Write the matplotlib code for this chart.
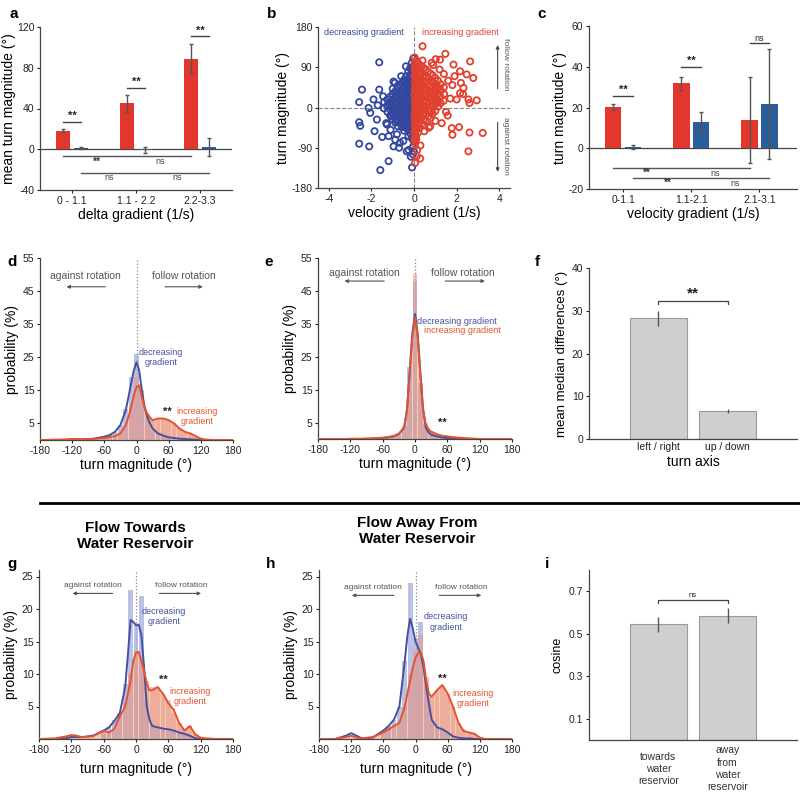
import numpy as np
import matplotlib
matplotlib.use('Agg')
import matplotlib.pyplot as plt
from matplotlib.lines import Line2D

plt.rcParams['font.family'] = ['Liberation Sans', 'DejaVu Sans']
plt.rcParams['axes.unicode_minus'] = False

RED = '#e3372d'
BLUE = '#2b5d9b'
SC_RED = '#e2402f'
SC_BLUE = '#34479e'
CURVE_BLUE = '#45509f'
CURVE_RED = '#e4532c'
BAR_BLUE = '#a3acdd'
BAR_RED = '#e89a8a'
FILL_RED = '#f4a585'
GRAY = '#555555'

# ---- panel a ----
A_GROUPS = ['0 - 1.1', '1.1 - 2.2', '2.2-3.3']
A_RED = [18, 45, 89]
A_RED_ERR = [1.5, 8, 14]
A_BLUE = [1.5, -1, 2]
A_BLUE_ERR = [1, 3, 9]

# ---- panel b ----
BLUE_PTS = [
    (-0.03, 110), (-0.03, 92), (-0.04, 75), (-0.02, 60), (-0.03, 45), (-0.04, 30), (-0.02, 15), (-0.03, 0),
    (-0.04, -15), (-0.02, -30), (-0.03, -45), (-0.04, -60), (-0.02, -75), (-0.05, -88),
    (-0.10, 100), (-0.11, 82), (-0.09, 66), (-0.10, 50), (-0.12, 36), (-0.10, 22), (-0.09, 8), (-0.11, -8),
    (-0.10, -22), (-0.12, -38), (-0.09, -52), (-0.11, -68),
    (-0.18, 88), (-0.19, 72), (-0.17, 57), (-0.18, 42), (-0.20, 28), (-0.18, 14), (-0.17, 0), (-0.19, -14),
    (-0.18, -28), (-0.20, -42), (-0.17, -58),
    (-0.27, 80), (-0.28, 63), (-0.26, 48), (-0.27, 34), (-0.29, 20), (-0.27, 6), (-0.26, -8), (-0.28, -22),
    (-0.27, -36), (-0.29, -50), (-0.26, -64),
    (-0.36, 70), (-0.37, 55), (-0.35, 40), (-0.36, 26), (-0.38, 12), (-0.36, -2), (-0.35, -16), (-0.37, -30),
    (-0.36, -45),
    (-0.46, 62), (-0.47, 47), (-0.45, 33), (-0.46, 19), (-0.48, 5), (-0.46, -9), (-0.45, -23), (-0.47, -38),
    (-0.46, -52),
    (-0.56, 55), (-0.57, 40), (-0.55, 26), (-0.56, 12), (-0.58, -2), (-0.56, -16), (-0.55, -30), (-0.57, -44),
    (-0.66, 50), (-0.67, 35), (-0.65, 21), (-0.66, 7), (-0.68, -7), (-0.66, -21), (-0.65, -35),
    (-0.77, 43), (-0.78, 29), (-0.76, 15), (-0.77, 1), (-0.79, -13), (-0.77, -27), (-0.76, -42),
    (-0.88, 36), (-0.89, 22), (-0.87, 8), (-0.88, -6), (-0.90, -20), (-0.88, -34),
    (-1.00, 30), (-1.01, 16), (-0.99, 2), (-1.00, -12), (-1.02, -26),
    (-1.12, 24), (-1.13, 10), (-1.11, -4), (-1.12, -18),
    (-1.25, 18), (-1.26, 4), (-1.24, -10), (-1.40, 12), (-1.41, -2),
    (-0.06, 83), (-0.07, 52), (-0.06, 22), (-0.07, -8), (-0.06, -38), (-0.07, -67),
    (-0.22, 64), (-0.23, 35), (-0.22, 7), (-0.23, -21), (-0.22, -49),
    (-0.41, 51), (-0.42, 22), (-0.41, -5), (-0.42, -34), (-0.61, 33), (-0.62, 5), (-0.61, -24),
    (-0.82, 24), (-0.83, -4), (-0.82, -30), (-1.06, 6), (-1.06, -20),
    (-2.44, 40), (-2.57, 12), (-2.57, -33), (-2.52, -41), (-2.57, -81), (-2.10, -87), (-1.63, 101),
    (-1.63, 40), (-1.19, -120), (-1.58, -140), (-1.49, -66), (-1.85, -53), (-2.05, -12), (-1.90, 18),
    (-2.13, -1), (-0.38, 92), (-0.49, 58), (-0.96, 58), (-0.88, -72), (-0.34, -98), (-0.01, -98),
    (-0.09, -134), (-1.19, -64), (-1.27, -38), (-1.74, -27), (-0.96, -87), (-0.65, -79),
    (-1.70, 5), (-1.45, 25), (-1.30, -35), (-1.10, -50), (-0.90, 55), (-0.80, -60), (-0.60, 70),
    (-0.50, -75), (-1.00, 42), (-0.25, -95), (-0.15, -110), (-0.05, -105), (-0.70, -90),
]
RED_PTS = [
    (0.03, 112), (0.03, 98), (0.04, 84), (0.02, 70), (0.03, 56), (0.04, 42), (0.02, 28), (0.03, 14),
    (0.04, 0), (0.02, -14), (0.03, -28), (0.04, -42), (0.02, -56), (0.03, -70), (0.05, -82),
    (0.10, 105), (0.11, 90), (0.09, 76), (0.10, 62), (0.12, 48), (0.10, 34), (0.09, 20), (0.11, 6),
    (0.10, -8), (0.12, -22), (0.09, -36), (0.11, -50), (0.10, -64),
    (0.18, 100), (0.19, 85), (0.17, 70), (0.18, 56), (0.20, 42), (0.18, 28), (0.17, 14), (0.19, 0),
    (0.18, -14), (0.20, -28), (0.17, -42), (0.19, -56),
    (0.27, 95), (0.28, 80), (0.26, 66), (0.27, 52), (0.29, 38), (0.27, 24), (0.26, 10), (0.28, -4),
    (0.27, -18), (0.29, -32), (0.26, -46),
    (0.36, 92), (0.37, 77), (0.35, 62), (0.36, 48), (0.38, 34), (0.36, 20), (0.35, 6), (0.37, -8),
    (0.36, -22), (0.38, -36),
    (0.46, 88), (0.47, 73), (0.45, 58), (0.46, 44), (0.48, 30), (0.46, 16), (0.45, 2), (0.47, -12),
    (0.46, -26), (0.48, -40),
    (0.56, 85), (0.57, 70), (0.55, 55), (0.56, 41), (0.58, 27), (0.56, 13), (0.55, -1), (0.57, -15),
    (0.56, -29),
    (0.66, 80), (0.67, 65), (0.65, 50), (0.66, 36), (0.68, 22), (0.66, 8), (0.65, -6), (0.67, -20),
    (0.77, 76), (0.78, 60), (0.76, 46), (0.77, 32), (0.79, 18), (0.77, 4), (0.76, -10), (0.78, -24),
    (0.88, 72), (0.89, 56), (0.87, 42), (0.88, 28), (0.90, 14), (0.88, 0), (0.87, -14),
    (1.00, 66), (1.01, 50), (0.99, 36), (1.00, 22), (1.02, 8), (1.00, -8),
    (1.12, 60), (1.13, 44), (1.11, 30), (1.12, 16), (1.13, 2),
    (1.25, 52), (1.26, 38), (1.24, 24), (1.25, 10), (1.40, 45), (1.41, 30), (1.39, 15),
    (0.06, 91), (0.07, 63), (0.06, 35), (0.07, 7), (0.06, -21), (0.07, -49), (0.06, -75),
    (0.23, 78), (0.22, 49), (0.23, 21), (0.22, -7), (0.23, -35),
    (0.41, 69), (0.42, 41), (0.41, 13), (0.42, -15), (0.61, 58), (0.62, 30), (0.61, 2),
    (0.82, 50), (0.83, 22), (0.82, -6), (1.06, 40), (1.06, 12),
    (0.40, 137), (1.47, 120), (0.40, 105), (1.02, 108), (1.22, 107), (0.83, 100), (2.63, 103),
    (1.85, 96), (2.16, 81), (2.47, 74), (2.78, 66), (2.32, 44), (2.16, 32), (2.00, 18), (2.55, 18),
    (2.60, 10), (2.94, 16), (3.22, -57), (2.60, -56), (2.11, -44), (1.77, -46), (1.58, -18), (1.30, -35),
    (1.80, -61), (2.55, -98), (0.05, -124), (0.13, -109), (0.29, -114), (0.10, -70), (0.48, -53),
    (0.76, -42), (1.60, 60), (1.20, 85), (1.40, 75), (1.80, 50), (1.00, -30), (0.70, -45), (0.30, -85),
    (0.15, -95), (1.70, 20), (2.20, 55), (1.50, -10), (0.90, 95), (1.90, 70), (2.30, 30),
]

# ---- panel c ----
C_GROUPS = ['0-1.1', '1.1-2.1', '2.1-3.1']
C_RED = [20.3, 31.9, 13.9]
C_RED_ERR = [1.5, 3.3, 21]
C_BLUE = [0.6, 12.7, 21.7]
C_BLUE_ERR = [0.8, 5, 27]

# ---- histogram panels d, e, g, h ----
HIST_BINS = [-60, -50, -40, -30, -20, -10, 0, 10, 20, 30, 40, 50, 60, 70, 80, 90, 100, 110, 120]
D_BLUE_BARS = [1, 1.5, 2.5, 4.5, 9.5, 19, 26, 15, 6.5, 3, 2, 1.2, 0.8, 0.5, 0.3, 0.2, 0.1, 0, 0]
D_RED_BARS = [0.6, 1, 1.2, 2, 4, 10, 19, 14, 8, 6, 6.5, 6.5, 6, 5, 3.5, 2.5, 2, 1.2, 0.4]
E_BLUE_BARS = [0.3, 0.5, 0.8, 1.5, 4, 22, 48, 17, 4, 1.5, 0.8, 0.5, 0.3, 0.2, 0.1, 0, 0, 0, 0]
E_RED_BARS = [0.3, 0.4, 0.6, 1, 3, 16, 50, 17, 5, 2.5, 1.5, 1, 0.8, 0.5, 0.3, 0.2, 0.1, 0, 0]
G_BLUE_BARS = [1.3, 1.8, 3, 4, 8.5, 23, 17.5, 22, 6, 2, 1.8, 1.5, 1.5, 1.2, 1, 0.8, 0.5, 0.1, 0]
G_RED_BARS = [1.3, 1, 1.6, 3.5, 5.5, 10, 13.5, 12.5, 9, 8, 8, 7, 6, 4, 2.5, 1.5, 2, 0.7, 0.2]
H_BLUE_BARS = [1.3, 2, 3, 5, 12, 24, 15.5, 18, 8, 3, 1.8, 1.5, 1, 0.4, 0.2, 0.1, 0.1, 0, 0]
H_RED_BARS = [1, 1.5, 2, 2.5, 5, 10, 13.5, 16, 9.5, 6.5, 7.5, 8, 7, 5, 2.5, 1.5, 1, 0.8, 0.2]

CURVE_X = [-180, -150, -130, -120, -110, -100, -80, -60, -50, -40, -30, -20, -15, -10, -5, 0, 5,
           10, 15, 20, 25, 30, 40, 50, 60, 70, 80, 90, 100, 110, 120, 130, 150, 180]
D_BLUE_CURVE = [0, 0, 0.05, 0.1, 0.15, 0.2, 0.4, 1.0, 1.5, 2.5, 4.5, 9, 13, 17, 21, 23.5, 21,
                15, 10, 7, 5, 3.5, 2, 1.3, 0.8, 0.6, 0.4, 0.3, 0.2, 0.1, 0, 0, 0, 0]
D_RED_CURVE = [0, 0.1, 0.2, 0.3, 0.25, 0.2, 0.3, 0.6, 0.9, 1.2, 2, 4.5, 7, 10, 13.5, 16, 16.5,
               13, 10, 8, 6.8, 6, 6.5, 6.5, 6, 5, 3.5, 2.5, 2, 1.2, 0.4, 0.1, 0, 0]
E_BLUE_CURVE = [0, 0, 0, 0, 0, 0, 0.1, 0.3, 0.5, 0.8, 1.5, 3.5, 9, 20, 32, 38, 32,
                20, 9, 3.5, 2, 1.3, 0.8, 0.5, 0.3, 0.2, 0.1, 0, 0, 0, 0, 0, 0, 0]
E_RED_CURVE = [0, 0, 0, 0.1, 0.1, 0.1, 0.2, 0.4, 0.6, 0.9, 1.6, 3.5, 8.5, 19, 31, 37, 31,
               19, 9, 4.5, 3, 2.2, 1.5, 1, 0.8, 0.6, 0.4, 0.3, 0.2, 0.1, 0, 0, 0, 0]
G_BLUE_CURVE = [0, 0, 0.1, 0.3, 0.3, 0.3, 0.5, 1.3, 1.8, 2.8, 4, 8, 13, 18.3, 18, 17.5, 17.6,
                16, 11, 5, 3, 2, 1.8, 1.6, 1.5, 1.3, 1, 0.8, 0.5, 0.1, 0, 0, 0, 0]
G_RED_CURVE = [0, 0.1, 0.4, 0.6, 0.5, 0.3, 0.4, 1.3, 1.0, 1.6, 3.5, 5, 7, 9, 12, 13.3, 13.4,
               12, 10.5, 8.5, 7.5, 7.5, 8, 7, 5.5, 4.5, 2.5, 1.3, 2, 0.7, 0.2, 0.1, 0, 0]
H_BLUE_CURVE = [0, 0, 0.5, 0.9, 0.5, 0.1, 0.2, 1.3, 2, 3, 5, 12, 16, 18.5, 17, 15, 14,
                13, 11, 8, 5.5, 3, 1.8, 1.5, 1, 0.4, 0.2, 0.1, 0.1, 0, 0, 0, 0, 0]
H_RED_CURVE = [0, 0, 0.3, 0.5, 0.2, 0.1, 0.3, 1, 1.5, 2, 2.5, 5, 7, 9, 11, 12.5, 13.2,
               13.3, 12, 9, 7, 6.5, 7.5, 8.3, 7, 5, 2.5, 1.2, 1, 0.8, 0.2, 0, 0, 0]

# ---- panel f ----
F_LABELS = ['left / right', 'up / down']
F_VALS = [28.2, 6.5]
F_ERR = [1.7, 0.5]

# ---- panel i ----
I_LABELS = ['towards\nwater\nreservior', 'away\nfrom\nwater\nreservoir']
I_VALS = [0.545, 0.585]
I_ERR = [0.035, 0.035]


def px_axes(fig, left, top, right, bottom):
    return fig.add_axes([left / 800, 1 - bottom / 800, (right - left) / 800, (bottom - top) / 800])


def style(ax):
    for s in ['top', 'right']:
        ax.spines[s].set_visible(False)
    for s in ['left', 'bottom']:
        ax.spines[s].set_color('#444444')
        ax.spines[s].set_linewidth(0.9)
    ax.tick_params(direction='out', length=2, width=0.8, labelsize=7.5, colors='#222222', pad=2)


def bracket(ax, x0, x1, y, text, fs=8, hook=0.0, dy=0.5, color='#444444'):
    if hook:
        ax.plot([x0, x0, x1, x1], [y - hook, y, y, y - hook], color=color, lw=0.9)
    else:
        ax.plot([x0, x1], [y, y], color=color, lw=1.0)
    ax.text((x0 + x1) / 2, y + dy, text, ha='center', va='bottom', fontsize=fs,
            fontweight='bold' if '*' in text else 'normal', color='#222222')


def grouped_bars(ax, red, red_err, blue, blue_err, off, width):
    xg = np.arange(1, len(red) + 1)
    ax.bar(xg - off, red, width, color=RED, zorder=2)
    ax.bar(xg + off, blue, width, color=BLUE, zorder=2)
    ax.errorbar(xg - off, red, yerr=red_err, fmt='none', ecolor=GRAY, elinewidth=1, capsize=1.5, zorder=3)
    ax.errorbar(xg + off, blue, yerr=blue_err, fmt='none', ecolor=GRAY, elinewidth=1, capsize=1.5, zorder=3)
    ax.axhline(0, color='#444444', lw=0.9, zorder=1)
    return xg


def hist_panel(ax, blue_bars, red_bars, blue_curve, red_curve, ymax, yticks):
    ax.fill_between(CURVE_X, red_curve, color=FILL_RED, alpha=0.6, lw=0, zorder=1)
    ax.bar(HIST_BINS, blue_bars, 9, color=BAR_BLUE, alpha=0.75, lw=0, zorder=2)
    ax.bar(HIST_BINS, red_bars, 9, color=BAR_RED, alpha=0.6, lw=0, zorder=3)
    ax.plot(CURVE_X, blue_curve, color=CURVE_BLUE, lw=1.4, zorder=4)
    ax.plot(CURVE_X, red_curve, color=CURVE_RED, lw=1.4, zorder=4)
    ax.axvline(0, color='#888888', ls=':', lw=0.9, zorder=0)
    ax.set_xlim(-180, 180)
    ax.set_ylim(0, ymax)
    ax.set_xticks([-180, -120, -60, 0, 60, 120, 180])
    ax.set_yticks(yticks)
    ax.set_xlabel('turn magnitude (°)', fontsize=10, labelpad=2)
    ax.set_ylabel('probability (%)', fontsize=10, labelpad=3)
    style(ax)


def rotation_arrows(ax, ty, ay, fs, xa=(-95, 88), arr_l=(-45, -130), arr_r=(45, 130)):
    ax.text(xa[0], ty, 'against rotation', ha='center', va='center', fontsize=fs, color='#555555')
    ax.text(xa[1], ty, 'follow rotation', ha='center', va='center', fontsize=fs, color='#555555')
    kw = dict(arrowstyle='-|>', color='#555555', lw=0.8, mutation_scale=5)
    ax.annotate('', xy=(arr_l[1], ay), xytext=(arr_l[0], ay), arrowprops=kw)
    ax.annotate('', xy=(arr_r[1], ay), xytext=(arr_r[0], ay), arrowprops=kw)


fig = plt.figure(figsize=(8, 8), dpi=100)

# ---------------- a ----------------
ax = px_axes(fig, 40, 27, 232, 190)
xg = grouped_bars(ax, A_RED, A_RED_ERR, A_BLUE, A_BLUE_ERR, 0.14, 0.23)
ax.set_xlim(0.5, 3.5)
ax.set_ylim(-40, 120)
ax.set_yticks([-40, 0, 40, 80, 120])
ax.set_xticks(xg)
ax.set_xticklabels(A_GROUPS, fontsize=8)
for g, yb in zip(xg, [27, 60, 111]):
    bracket(ax, g - 0.14, g + 0.14, yb, '**', dy=0.8)
ax.plot([0.86, 2.86], [-6.5, -6.5], color='#555555', lw=1)
ax.plot([1.14, 3.14], [-23, -23], color='#555555', lw=1)
ax.text(1.37, -12, '**', ha='center', va='center', fontsize=7.5, fontweight='bold', color='#333333')
ax.text(2.37, -12, 'ns', ha='center', va='center', fontsize=6.5, color='#444444')
ax.text(1.58, -27.5, 'ns', ha='center', va='center', fontsize=6.5, color='#444444')
ax.text(2.65, -27.5, 'ns', ha='center', va='center', fontsize=6.5, color='#444444')
style(ax)
ax.set_xlabel('delta gradient (1/s)', fontsize=10, labelpad=2)
ax.set_ylabel('mean turn magnitude (°)', fontsize=10, labelpad=1)

# ---------------- b ----------------
ax = px_axes(fig, 318, 27, 510, 188)
bx, by = zip(*BLUE_PTS)
rx, ry = zip(*RED_PTS)
ax.scatter(bx, by, s=20, facecolors='none', edgecolors=SC_BLUE, linewidths=1.3, zorder=3)
ax.scatter(rx, ry, s=20, facecolors='none', edgecolors=SC_RED, linewidths=1.3, zorder=3)
ax.axhline(0, color='#888888', ls='--', lw=0.8, zorder=1)
ax.axvline(0, color='#888888', ls='--', lw=0.8, zorder=1)
ax.set_xlim(-4.5, 4.5)
ax.set_ylim(-180, 180)
ax.set_xticks([-4, -2, 0, 2, 4])
ax.set_yticks([-180, -90, 0, 90, 180])
ax.text(-2.36, 168, 'decreasing gradient', ha='center', va='center', fontsize=6.5, color=SC_BLUE)
ax.text(2.16, 168, 'increasing gradient', ha='center', va='center', fontsize=6.5, color=SC_RED)
kw = dict(arrowstyle='-|>', color='#444444', lw=0.8, mutation_scale=5)
ax.annotate('', xy=(3.92, 146), xytext=(3.92, 36), arrowprops=kw)
ax.annotate('', xy=(3.92, -150), xytext=(3.92, -27), arrowprops=kw)
ax.text(4.3, 96, 'follow rotation', rotation=-90, ha='center', va='center', fontsize=6, color='#555555')
ax.text(4.3, -87, 'against rotation', rotation=-90, ha='center', va='center', fontsize=6, color='#555555')
style(ax)
ax.set_xlabel('velocity gradient (1/s)', fontsize=10, labelpad=2)
ax.set_ylabel('turn magnitude (°)', fontsize=10, labelpad=1)

# ---------------- c ----------------
ax = px_axes(fig, 589, 26, 797, 189)
xg = grouped_bars(ax, C_RED, C_RED_ERR, C_BLUE, C_BLUE_ERR, 0.145, 0.24)
ax.set_xlim(0.5, 3.55)
ax.set_ylim(-20, 60)
ax.set_yticks([-20, 0, 20, 40, 60])
ax.set_xticks(xg)
ax.set_xticklabels(C_GROUPS, fontsize=8)
bracket(ax, 0.855, 1.145, 25.8, '**', dy=0.4)
bracket(ax, 1.855, 2.145, 40, '**', dy=0.4)
bracket(ax, 2.855, 3.145, 51.5, 'ns', fs=6.5, dy=0.3)
ax.plot([0.855, 2.855], [-9.8, -9.8], color='#555555', lw=1)
ax.plot([1.145, 3.145], [-14.7, -14.7], color='#555555', lw=1)
ax.text(1.35, -12.3, '**', ha='center', va='center', fontsize=7, fontweight='bold', color='#333333')
ax.text(2.35, -12.3, 'ns', ha='center', va='center', fontsize=6.5, color='#444444')
ax.text(1.65, -17.2, '**', ha='center', va='center', fontsize=7, fontweight='bold', color='#333333')
ax.text(2.65, -17.2, 'ns', ha='center', va='center', fontsize=6.5, color='#444444')
style(ax)
ax.set_xlabel('velocity gradient (1/s)', fontsize=10, labelpad=2)
ax.set_ylabel('turn magnitude (°)', fontsize=10, labelpad=1)

# ---------------- d ----------------
ax = px_axes(fig, 40, 258, 233, 440)
hist_panel(ax, D_BLUE_BARS, D_RED_BARS, D_BLUE_CURVE, D_RED_CURVE, 55, [5, 15, 25, 35, 45, 55])
rotation_arrows(ax, 49.5, 46.3, 7.5, xa=(-96, 88), arr_l=(-53, -136), arr_r=(48, 129))
ax.text(46, 25, 'decreasing\ngradient', ha='center', va='center', fontsize=6.5, color=CURVE_BLUE,
        linespacing=1.15)
ax.text(113, 7, 'increasing\ngradient', ha='center', va='center', fontsize=6.5, color=CURVE_RED,
        linespacing=1.15)
ax.text(58, 8.5, '**', ha='center', va='center', fontsize=8, fontweight='bold', color='#222222')

# ---------------- e ----------------
ax = px_axes(fig, 318, 258, 512, 439)
hist_panel(ax, E_BLUE_BARS, E_RED_BARS, E_BLUE_CURVE, E_RED_CURVE, 55, [5, 15, 25, 35, 45, 55])
rotation_arrows(ax, 50.5, 48, 7.5, xa=(-94, 88), arr_l=(-52, -136), arr_r=(51, 135))
ax.text(77, 35.6, 'decreasing gradient', ha='center', va='center', fontsize=6.5, color=CURVE_BLUE)
ax.text(87, 32.9, 'increasing gradient', ha='center', va='center', fontsize=6.5, color=CURVE_RED)
ax.text(51, 4.8, '**', ha='center', va='center', fontsize=8, fontweight='bold', color='#222222')

# ---------------- f ----------------
ax = px_axes(fig, 589, 268, 797, 439)
ax.bar([1, 2], F_VALS, 0.82, color='#cfcfcf', edgecolor='#9a9a9a', lw=0.8, zorder=2)
ax.errorbar([1, 2], F_VALS, yerr=F_ERR, fmt='none', ecolor=GRAY, elinewidth=1, capsize=0, zorder=3)
bracket(ax, 1, 2, 32.2, '**', fs=11, hook=0.7, dy=0.2)
ax.set_xlim(0, 3)
ax.set_ylim(0, 40)
ax.set_yticks([0, 10, 20, 30, 40])
ax.set_xticks([1, 2])
ax.set_xticklabels(F_LABELS, fontsize=7.5)
style(ax)
ax.tick_params(axis='x', length=0)
ax.set_xlabel('turn axis', fontsize=10, labelpad=2)
ax.set_ylabel('mean median differences (°)', fontsize=9.5, labelpad=3)

# ---------------- g ----------------
ax = px_axes(fig, 39, 570, 233, 739)
hist_panel(ax, G_BLUE_BARS, G_RED_BARS, G_BLUE_CURVE, G_RED_CURVE, 26, [5, 10, 15, 20, 25])
rotation_arrows(ax, 23.6, 22.4, 6, xa=(-80, 84), arr_l=(-38, -123), arr_r=(38, 126))
ax.text(52, 18.8, 'decreasing\ngradient', ha='center', va='center', fontsize=6.5, color=CURVE_BLUE,
        linespacing=1.15)
ax.text(101, 6.6, 'increasing\ngradient', ha='center', va='center', fontsize=6.5, color=CURVE_RED,
        linespacing=1.15)
ax.text(51, 9.1, '**', ha='center', va='center', fontsize=8, fontweight='bold', color='#222222')
ax.set_xlabel('turn magnitude (°)', fontsize=10, labelpad=5)

# ---------------- h ----------------
ax = px_axes(fig, 319, 570, 512, 739)
hist_panel(ax, H_BLUE_BARS, H_RED_BARS, H_BLUE_CURVE, H_RED_CURVE, 26, [5, 10, 15, 20, 25])
rotation_arrows(ax, 23.3, 22.1, 6, xa=(-79, 86), arr_l=(-35, -124), arr_r=(39, 128))
ax.text(57, 18.0, 'decreasing\ngradient', ha='center', va='center', fontsize=6.5, color=CURVE_BLUE,
        linespacing=1.15)
ax.text(108, 6.3, 'increasing\ngradient', ha='center', va='center', fontsize=6.5, color=CURVE_RED,
        linespacing=1.15)
ax.text(50, 9.2, '**', ha='center', va='center', fontsize=8, fontweight='bold', color='#222222')
ax.set_xlabel('turn magnitude (°)', fontsize=10, labelpad=5)

# ---------------- i ----------------
ax = px_axes(fig, 589, 570, 797, 740)
ax.bar([1, 2], I_VALS, 0.82, color='#cfcfcf', edgecolor='#9a9a9a', lw=0.8, zorder=2)
ax.errorbar([1, 2], I_VALS, yerr=I_ERR, fmt='none', ecolor=GRAY, elinewidth=1, capsize=0, zorder=3)
bracket(ax, 1, 2, 0.658, 'ns', fs=5.5, hook=0.012, dy=0.004)
ax.set_xlim(0, 3)
ax.set_ylim(0, 0.8)
ax.set_yticks([0.1, 0.3, 0.5, 0.7])
ax.set_xticks([])
for xi, lab in zip([1, 2], I_LABELS):
    ax.text(xi, -0.17, lab, transform=ax.get_xaxis_transform(), ha='center', va='center',
            fontsize=7.5, color='#333333', linespacing=1.3)
style(ax)
ax.set_ylabel('cosine', fontsize=9, labelpad=4)

# ---------------- figure-level decoration ----------------
for lab, x, y in [('a', 10, 14), ('b', 267, 14), ('c', 537, 14), ('d', 7, 262), ('e', 264, 262),
                  ('f', 535, 262), ('g', 7, 564), ('h', 266, 564), ('i', 545, 564)]:
    fig.text(x / 800, 1 - y / 800, lab, fontsize=11, fontweight='bold', va='center', ha='left')

fig.add_artist(Line2D([40 / 800, 1.0], [1 - 503 / 800, 1 - 503 / 800], color='black', lw=2))
fig.text(135 / 800, 1 - 536 / 800, 'Flow Towards\nWater Reservoir', ha='center', va='center',
         fontsize=11, fontweight='bold', linespacing=1.25)
fig.text(417 / 800, 1 - 531 / 800, 'Flow Away From\nWater Reservoir', ha='center', va='center',
         fontsize=11, fontweight='bold', linespacing=1.25)

fig.savefig('out.png', dpi=100)
